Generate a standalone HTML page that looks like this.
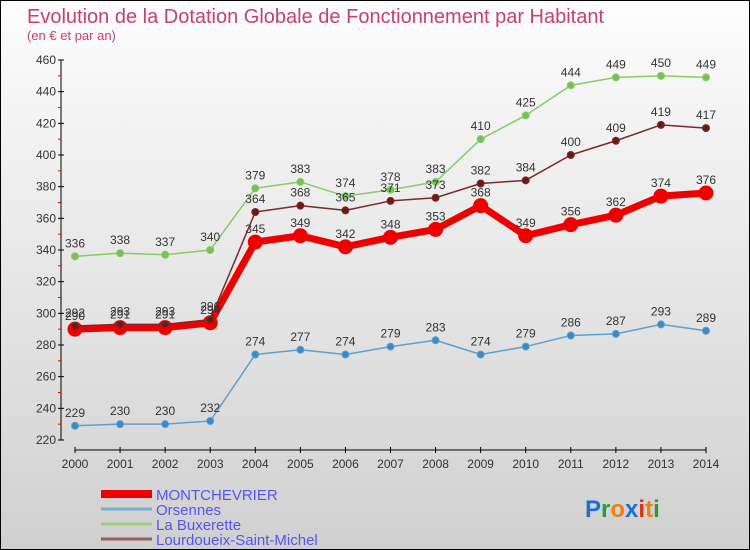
<!DOCTYPE html>
<html><head><meta charset="utf-8"><style>
body{margin:0;}
#wrap{width:748px;height:548px;border:1px solid #000;background:linear-gradient(#fdfdfd,#d0d0d0);position:relative;overflow:hidden;font-family:"Liberation Sans",sans-serif;}
svg text{font-family:"Liberation Sans",sans-serif;}
</style></head><body>
<div id="wrap">
<svg id="svg" width="748" height="548">
<text x="26" y="22" font-size="20" font-weight="300" fill="#c8406e">Evolution de la Dotation Globale de Fonctionnement par Habitant</text>
<text x="26" y="39" font-size="13" fill="#c8406e">(en € et par an)</text>
<g id="axes"></g><g id="series"></g><g id="legend"></g>
<text x="584" y="516" font-size="24" font-weight="bold"><tspan fill="#1a6fd0">P</tspan><tspan fill="#2a9a3a">r</tspan><tspan fill="#f08010">o</tspan><tspan fill="#1a6fd0">x</tspan><tspan fill="#e03010">i</tspan><tspan fill="#f08010">t</tspan><tspan fill="#2a9a3a">i</tspan></text>
</svg></div>
<script>
const years=[2000,2001,2002,2003,2004,2005,2006,2007,2008,2009,2010,2011,2012,2013,2014];
const montchevrier=[290,291,291,294,345,349,342,348,353,368,349,356,362,374,376];
const orsennes=[229,230,230,232,274,277,274,279,283,274,279,286,287,293,289];
const buxerette=[336,338,337,340,379,383,374,378,383,410,425,444,449,450,449];
const lourdoueix=[292,293,293,296,364,368,365,371,373,382,384,400,409,419,417];
const yTicks=[220,240,260,280,300,320,340,360,380,400,420,440,460];
const NS='http://www.w3.org/2000/svg';
function X(i){return 74+(i)*(705-74)/14;}
function Y(v){return 439-(v-220)*(380/240);}
function mk(tag,attrs,parent){const e=document.createElementNS(NS,tag);for(const k in attrs)e.setAttribute(k,attrs[k]);parent.appendChild(e);return e;}
const ax=document.getElementById('axes');
const yl=mk('line',{x1:60,y1:59,x2:60,y2:439,stroke:'#000'},ax);


const xl=mk('line',{x1:74,y1:449,x2:705,y2:449,stroke:'#000'},ax);


yTicks.forEach((t,i)=>{
  mk('line',{x1:57,y1:Y(t),x2:63,y2:Y(t),stroke:'#000'},ax);
  if(i<yTicks.length-1)mk('line',{x1:57,y1:Y(t+10),x2:60,y2:Y(t+10),stroke:'#f00'},ax);
  const tx=mk('text',{x:55,y:Y(t)+4,'font-size':12,'text-anchor':'end',fill:'#333'},ax);tx.textContent=t;
  
  
});
years.forEach((y,i)=>{
  mk('line',{x1:X(i),y1:446,x2:X(i),y2:452,stroke:'#000'},ax);
  const tx=mk('text',{x:X(i),y:467,'font-size':12,'text-anchor':'middle',fill:'#333'},ax);tx.textContent=y;
  
  
});
const sg=document.getElementById('series');
function series(name,data,color,w,r,dot){
  const g=mk('g',{},sg);
  
  
  mk('polyline',{points:data.map((v,i)=>X(i)+','+Y(v)).join(' '),fill:'none',stroke:color,'stroke-width':w,'stroke-linejoin':'round'},g);
  data.forEach((v,i)=>{
    const c=mk('circle',{cx:X(i),cy:Y(v),r:r,fill:dot,stroke:color,'stroke-width':1},g);
    
    
    const t=mk('text',{x:X(i),y:Y(v)-9,'font-size':12,'text-anchor':'middle',fill:'#333'},g);t.textContent=v;
    
    
  });
}
series('orsennes',orsennes,'#5fa0d0',1.5,3.5,'#3a8ac8');
series('la-buxerette',buxerette,'#88cc66',1.5,3.5,'#77c055');
series('montchevrier',montchevrier,'#ee0000',7,7,'#ee0000');
series('lourdoueix',lourdoueix,'#7a2a2a',1.5,3.5,'#6a1a1a');
const lg=document.getElementById('legend');
const items=[['MONTCHEVRIER','#ee0000',8],['Orsennes','#7aaed0',3],['La Buxerette','#99d077',3],['Lourdoueix-Saint-Michel','#9a5a5a',3]];
items.forEach((it,i)=>{
  const y=493+i*15;
  const g=mk('g',{},lg);
  
  
  mk('line',{x1:100,y1:y,x2:151,y2:y,stroke:it[1],'stroke-width':it[2]},g);
  const t=mk('text',{x:155,y:y+6,'font-size':15,fill:'#5555ee'},g);t.textContent=it[0];
});
</script>
</body></html>
